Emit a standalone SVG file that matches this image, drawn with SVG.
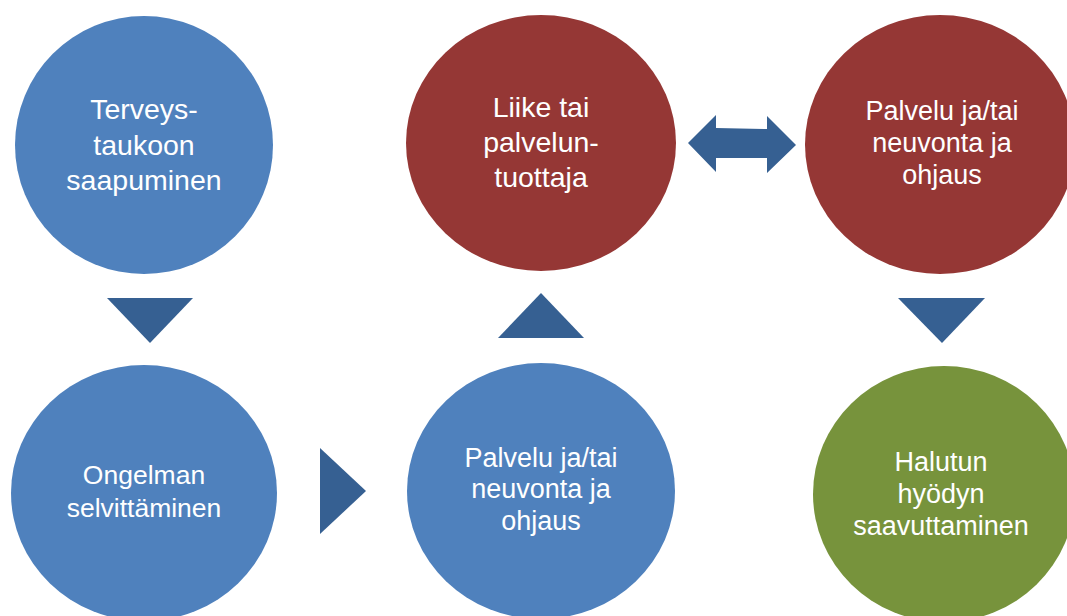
<svg xmlns="http://www.w3.org/2000/svg" width="1067" height="616" viewBox="0 0 1067 616">
<style>
.blue{fill:#4F81BD}
.red{fill:#953735}
.green{fill:#77933C}
.arr{fill:#366092}
text{font-family:"Liberation Sans",Arial,sans-serif;fill:#FFFFFF;text-anchor:middle}
</style>
<rect width="1067" height="616" fill="#FFFFFF"/>
<g id="connectors">
<polygon class="arr" points="107,298 193,298 150,343"/>
<polygon class="arr" points="320,448 366,491 320,534"/>
<polygon class="arr" points="498,338 584,338 541,293"/>
<polygon class="arr" points="688,143 716,115 716,128 767,129 767,116 796,145 767,173 767,158 716,158 716,172"/>
<polygon class="arr" points="898,298 985,298 942,343"/>
</g>
<g id="n1">
<ellipse class="blue" cx="144" cy="145" rx="129" ry="129"/>
<text font-size="28.5"><tspan x="144" y="119">Terveys-</tspan><tspan x="144" y="155">taukoon</tspan><tspan x="144" y="190">saapuminen</tspan></text>
</g>
<g id="n2">
<ellipse class="red" cx="541" cy="143" rx="135" ry="128"/>
<text font-size="28.5"><tspan x="541" y="117">Liike tai</tspan><tspan x="541" y="152">palvelun-</tspan><tspan x="541" y="187">tuottaja</tspan></text>
</g>
<g id="n3">
<ellipse class="red" cx="940" cy="144.5" rx="135" ry="129.5"/>
<text font-size="27"><tspan x="942" y="120">Palvelu ja/tai</tspan><tspan x="942" y="152">neuvonta ja</tspan><tspan x="942" y="184">ohjaus</tspan></text>
</g>
<g id="n4">
<ellipse class="blue" cx="144" cy="493" rx="133" ry="128"/>
<text font-size="26.5"><tspan x="144" y="484">Ongelman</tspan><tspan x="144" y="517">selvittäminen</tspan></text>
</g>
<g id="n5">
<ellipse class="blue" cx="541" cy="491" rx="134" ry="128"/>
<text font-size="27"><tspan x="541" y="467">Palvelu ja/tai</tspan><tspan x="541" y="498">neuvonta ja</tspan><tspan x="541" y="530">ohjaus</tspan></text>
</g>
<g id="n6">
<ellipse class="green" cx="944" cy="494" rx="131" ry="128"/>
<text font-size="27"><tspan x="941" y="471">Halutun</tspan><tspan x="941" y="503">hyödyn</tspan><tspan x="941" y="535">saavuttaminen</tspan></text>
</g>
</svg>
